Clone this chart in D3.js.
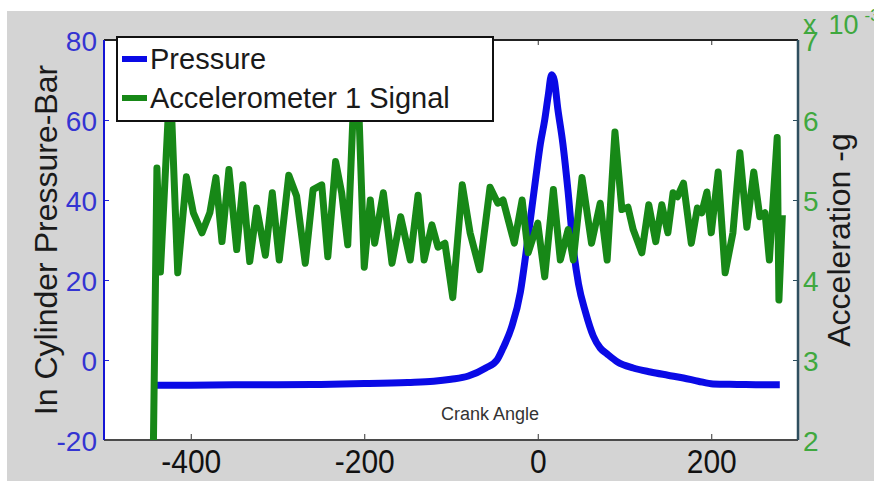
<!DOCTYPE html>
<html lang="en">
<head>
  <meta charset="UTF-8">
  <title>In Cylinder Pressure and Accelerometer Signal</title>
  <script src="https://cdnjs.cloudflare.com/ajax/libs/d3/7.8.5/d3.min.js"></script>
  <style>
    body { margin: 0; background: #fff; }
    svg { display: block; font-family: "Liberation Sans", Arial, sans-serif; }
  </style>
</head>
<body>
  <div id="chart"></div>

  <script>
    // crank angle (deg) vs in-cylinder pressure (bar)
    const pressureAngle = [-439, -400, -350, -300, -250, -200, -150, -120, -100, -80, -60, -47, -40, -30,
      -20, -14, -8, -2, 3, 8, 12, 16, 19, 23, 29, 35, 41, 47, 55, 64, 72, 80, 92, 110, 130, 150, 168, 185,
      202, 230, 260, 279];
    const pressureBar = [-6.3, -6.3, -6.2, -6.2, -6.1, -5.9, -5.6, -5.3, -4.8, -4.0, -2.0, 0, 3, 8.3,
      17, 26, 36, 46, 54, 60, 66, 71.3, 70, 63, 54, 42, 28, 19, 12, 6, 3, 1.5, -0.5, -2, -3, -3.8, -4.5, -5.3,
      -6, -6.1, -6.2, -6.2];

    // crank angle (deg) vs accelerometer 1 signal (g, x 10^-3)
    const accelAngle = [-443, -439, -435, -426, -422, -415, -405, -397, -387, -378, -371, -364, -356, -347,
      -340, -332, -324, -314, -306, -298, -287, -278, -268, -259, -249, -242, -233, -226, -219, -213, -206,
      -200, -193, -188, -178, -168, -158, -147, -138, -131, -122, -115, -107, -98, -87, -78, -67, -55, -46,
      -40, -34, -27, -18, -11, 0, 8, 18, 26, 35, 41, 51, 62, 72, 80, 89, 97, 104, 110, 120, 128, 136, 143,
      150, 156, 161, 168, 177, 184, 189, 195, 200, 208, 216, 225, 233, 241, 249, 256, 262, 267, 276, 278, 282];
    const accelG = [2.0, 5.40, 4.10, 6.05, 6.05, 4.09, 5.29, 4.84, 4.59, 4.84, 5.28, 4.48, 5.38, 4.38,
      5.19, 4.23, 4.90, 4.31, 5.09, 4.25, 5.31, 5.05, 4.21, 5.13, 5.19, 4.29, 5.48, 5.09, 4.44, 6.05, 6.05,
      4.16, 5.00, 4.46, 5.09, 4.21, 4.79, 4.25, 5.06, 4.25, 4.69, 4.41, 4.46, 3.78, 5.19, 4.59, 4.13, 5.16, 4.96,
      5.00, 4.75, 4.46, 5.00, 4.34, 4.71, 4.04, 5.13, 4.25, 4.63, 4.25, 5.28, 4.46, 4.96, 4.25, 5.85, 4.88, 4.91,
      4.63, 4.34, 4.94, 4.48, 4.94, 4.59, 5.09, 5.04, 5.21, 4.46, 4.90, 4.84, 5.10, 4.59, 5.35, 4.09, 4.59,
      5.59, 4.66, 5.35, 4.79, 4.84, 4.25, 5.78, 3.75, 4.81];

    const xTicks = [-400, -200, 0, 200];
    const pressureTicks = [-20, 0, 20, 40, 60, 80];
    const accelTicks = [2, 3, 4, 5, 6, 7];
    const seriesNames = ["Pressure", "Accelerometer 1 Signal"];

    const W = 874, H = 481;
    const margin = {top: 40, right: 76, bottom: 41, left: 104};
    const plain = d => String(d);  // hyphen minus like the original

    const svg = d3.select("#chart").append("svg")
      .attr("width", W)
      .attr("height", H);

    // grey figure background (white strip at top and left like the scan)
    svg.append("rect").attr("width", W).attr("height", H).attr("fill", "#fff");
    svg.append("rect").attr("x", 7).attr("y", 11).attr("width", W - 7).attr("height", H - 11)
      .attr("fill", "#d4d4d4");

    const x = d3.scaleLinear().domain([-500, 300]).range([margin.left, W - margin.right]);
    const yL = d3.scaleLinear().domain([-20, 80]).range([H - margin.bottom, margin.top]);
    const yR = d3.scaleLinear().domain([2, 7]).range([H - margin.bottom, margin.top]);

    const x0 = x.range()[0], x1 = x.range()[1], y0 = yL.range()[0], y1 = yL.range()[1];

    svg.append("rect")
      .attr("x", x0).attr("y", y1)
      .attr("width", x1 - x0).attr("height", y0 - y1)
      .attr("fill", "#fff");

    svg.append("clipPath").attr("id", "plot-clip")
      .append("rect").attr("x", x0).attr("y", y1 - 4).attr("width", x1 - x0).attr("height", y0 - y1 + 4);

    // axes
    const xAxis = svg.append("g")
      .attr("transform", `translate(0,${y0})`)
      .call(d3.axisBottom(x).tickValues(xTicks).tickFormat(plain)
        .tickSizeInner(-6).tickSizeOuter(0).tickPadding(9));
    xAxis.select(".domain").remove();
    xAxis.selectAll("line").attr("stroke", "#333");
    xAxis.selectAll("text")
      .attr("fill", "#111")
      .style("font-size", "30px")
      .attr("transform", "scale(1,1.1)");

    const xTop = svg.append("g")
      .attr("transform", `translate(0,${y1})`)
      .call(d3.axisTop(x).tickValues(xTicks).tickSizeInner(-5).tickSizeOuter(0).tickFormat(""));
    xTop.select(".domain").remove();
    xTop.selectAll("line").attr("stroke", "#333");

    const leftAxis = svg.append("g")
      .attr("transform", `translate(${x0},0)`)
      .call(d3.axisLeft(yL).tickValues(pressureTicks).tickFormat(plain)
        .tickSizeInner(-5).tickSizeOuter(0).tickPadding(7));
    leftAxis.select(".domain").remove();
    leftAxis.selectAll("line").attr("stroke", "#2020d0");
    leftAxis.selectAll("text")
      .attr("fill", "#3434d2")
      .attr("dy", "0.36em")
      .style("font-size", "28px");

    const rightAxis = svg.append("g")
      .attr("transform", `translate(${x1},0)`)
      .call(d3.axisRight(yR).tickValues(accelTicks).tickFormat(plain)
        .tickSizeInner(-5).tickSizeOuter(0).tickPadding(5));
    rightAxis.select(".domain").remove();
    rightAxis.selectAll("line").attr("stroke", "#2f4f5f");
    rightAxis.selectAll("text")
      .attr("fill", "#3fa83f")
      .attr("dy", "0.36em")
      .style("font-size", "28px");

    // exponent note of right axis (runs off the figure edge as in the original)
    const expo = svg.append("text")
      .attr("x", x1 + 5).attr("y", 34)
      .attr("fill", "#3fa83f")
      .style("font-size", "27px");
    expo.append("tspan").text("x");
    expo.append("tspan").attr("dx", 12).text("10");
    expo.append("tspan").attr("dx", 6).attr("dy", -13).style("font-size", "17px").text("-3");

    // frame lines
    svg.append("line").attr("x1", x0).attr("x2", x1).attr("y1", y0).attr("y2", y0)
      .attr("stroke", "#4a4a4a").attr("stroke-width", 2);
    svg.append("line").attr("x1", x0).attr("x2", x1).attr("y1", y1).attr("y2", y1)
      .attr("stroke", "#222").attr("stroke-width", 2);
    svg.append("line").attr("x1", x0).attr("x2", x0).attr("y1", y1).attr("y2", y0)
      .attr("stroke", "#1515d5").attr("stroke-width", 2);
    svg.append("line").attr("x1", x1).attr("x2", x1).attr("y1", y1).attr("y2", y0)
      .attr("stroke", "#2f4f5f").attr("stroke-width", 2.5);

    // axis titles
    svg.append("text")
      .attr("transform", `translate(45,${(y0 + y1) / 2}) rotate(-90)`)
      .attr("text-anchor", "middle")
      .attr("dy", "0.36em")
      .attr("fill", "#1a1a1a")
      .style("font-size", "32px")
      .text("In Cylinder Pressure-Bar");

    svg.append("text")
      .attr("transform", `translate(838,${(y0 + y1) / 2}) rotate(-90)`)
      .attr("text-anchor", "middle")
      .attr("dy", "0.36em")
      .attr("fill", "#1a1a1a")
      .style("font-size", "32px")
      .text("Acceleration -g");

    svg.append("text")
      .attr("x", x(-55)).attr("y", 420)
      .attr("text-anchor", "middle")
      .attr("fill", "#333")
      .style("font-size", "18px")
      .text("Crank Angle");

    // series
    const pressureData = pressureAngle.map((a, i) => [a, pressureBar[i]]);
    const accelData = accelAngle.map((a, i) => [a, accelG[i]]);

    const plot = svg.append("g").attr("clip-path", "url(#plot-clip)");

    plot.append("path")
      .datum(pressureData)
      .attr("fill", "none")
      .attr("stroke", "#0a0ae6")
      .attr("stroke-width", 7)
      .attr("stroke-linejoin", "round")
      .attr("d", d3.line().x(d => x(d[0])).y(d => yL(d[1])).curve(d3.curveMonotoneX));

    plot.append("path")
      .datum(accelData)
      .attr("fill", "none")
      .attr("stroke", "#178817")
      .attr("stroke-width", 7)
      .attr("stroke-linejoin", "round")
      .attr("d", d3.line().x(d => x(d[0])).y(d => yR(d[1])));

    // legend
    const legend = svg.append("g");
    legend.append("rect")
      .attr("x", 117).attr("y", 37)
      .attr("width", 376).attr("height", 84)
      .attr("fill", "#fff")
      .attr("stroke", "#111")
      .attr("stroke-width", 2);

    const legendColors = ["#0a0ae6", "#178817"];
    seriesNames.forEach((name, i) => {
      const ly = 59 + i * 39;
      legend.append("line")
        .attr("x1", 122).attr("x2", 147)
        .attr("y1", ly).attr("y2", ly)
        .attr("stroke", legendColors[i])
        .attr("stroke-width", 6);
      legend.append("text")
        .attr("x", 150).attr("y", ly)
        .attr("dy", "0.36em")
        .attr("fill", "#1a1a1a")
        .style("font-size", "29px")
        .text(name);
    });
  </script>
</body>
</html>
